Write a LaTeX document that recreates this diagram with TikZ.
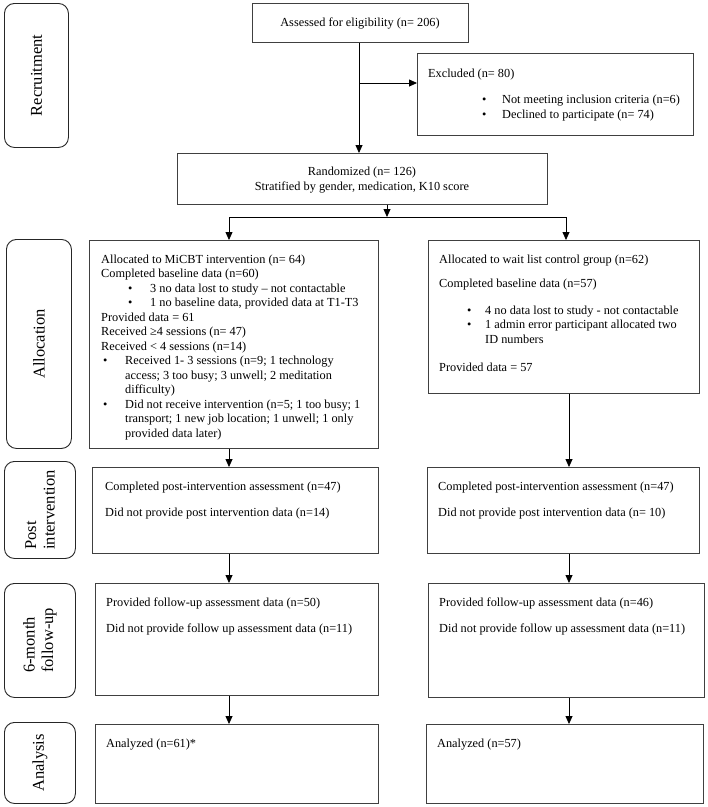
\documentclass[tikz,border=0pt]{standalone}
\usepackage{fontspec}
\setmainfont{Liberation Serif}
\usetikzlibrary{arrows.meta}
\begin{document}
\begin{tikzpicture}[x=1pt,y=-1pt,
  box/.style={draw=black!75, line width=0.8pt, inner sep=0pt, anchor=north west},
  lab/.style={draw=black!85, line width=0.9pt, rounded corners=10pt, inner sep=0pt, anchor=north west},
  labtext/.style={rotate=90, font=\fontsize{16.5}{18.5}\selectfont, align=left, inner sep=0pt},
  txt/.style={anchor=base west, inner sep=0pt, font=\fontsize{12.3}{14.5}\selectfont},
  ctxt/.style={anchor=base, inner sep=0pt, font=\fontsize{12.3}{14.5}\selectfont},
  arr/.style={draw=black, line width=0.8pt, -{Triangle[length=8pt,width=7pt]}},
  ln/.style={draw=black, line width=0.8pt}]
\useasboundingbox[fill=white] (0,0) rectangle (708,807);

% stage labels
\node[lab, minimum width=64pt, minimum height=144pt] (lrec) at (4,3) {};
\node[labtext] (lrect) at (lrec.center) {Recruitment};
\node[lab, minimum width=65pt, minimum height=209pt] (lall) at (6,239) {};
\node[labtext] (lallt) at (lall.center) {Allocation};
\node[lab, minimum width=71pt, minimum height=97pt] (lpost) at (4,461) {};
\node[labtext] (lpostt) at (lpost.center) {Post\\intervention};
\node[lab, minimum width=71pt, minimum height=114pt] (lfol) at (4,583) {};
\node[labtext] (lfolt) at (lfol.center) {6-month\\follow-up};
\node[lab, minimum width=71pt, minimum height=81pt] (lana) at (4,722) {};
\node[labtext] (lanat) at (lana.center) {Analysis};

% top boxes
\node[box, minimum width=216pt, minimum height=39pt] (assess) at (252,3) {};
\node[ctxt] (assesst) at (360,26) {Assessed for eligibility (n= 206)};

\node[box, minimum width=276pt, minimum height=82pt] (excl) at (417,53) {};
\node[txt] (exclt) at (428,77) {Excluded (n= 80)};
\node[txt] (exb1) at (482,103) {•};
\node[txt] (ext1) at (502,103) {Not meeting inclusion criteria (n=6)};
\node[txt] (exb2) at (482,118) {•};
\node[txt] (ext2) at (502,118) {Declined to participate (n= 74)};

\node[box, minimum width=370pt, minimum height=51pt] (rand) at (177,153) {};
\node[ctxt] (randt1) at (362,175) {Randomized (n= 126)};
\node[ctxt] (randt2) at (362,190) {Stratified by gender, medication, K10 score};

% allocation boxes
\node[box, minimum width=289pt, minimum height=208pt] (allocL) at (89,240) {};
\node[txt] (aL1) at (101,263) {Allocated to MiCBT intervention (n= 64)};
\node[txt] (aL2) at (101,277.5) {Completed baseline data (n=60)};
\node[txt] (aLb3) at (128,292) {•};
\node[txt] (aL3) at (150,292) {3 no data lost to study – not contactable};
\node[txt] (aLb4) at (128,306.5) {•};
\node[txt] (aL4) at (150,306.5) {1 no baseline data, provided data at T1-T3};
\node[txt] (aL5) at (101,321) {Provided data = 61};
\node[txt] (aL6) at (101,335.5) {Received ≥4 sessions (n= 47)};
\node[txt] (aL7) at (101,350) {Received < 4 sessions (n=14)};
\node[txt] (aLb8) at (103,364.5) {•};
\node[txt] (aL8) at (125,364.5) {Received 1- 3 sessions (n=9; 1 technology};
\node[txt] (aL9) at (125,379) {access; 3 too busy; 3 unwell; 2 meditation};
\node[txt] (aL10) at (125,393.5) {difficulty)};
\node[txt] (aLb11) at (103,408) {•};
\node[txt] (aL11) at (125,408) {Did not receive intervention (n=5; 1 too busy; 1};
\node[txt] (aL12) at (125,422.5) {transport; 1 new job location; 1 unwell; 1 only};
\node[txt] (aL13) at (125,437) {provided data later)};

\node[box, minimum width=271pt, minimum height=153pt] (allocR) at (428,240) {};
\node[txt] (aR1) at (439,263) {Allocated to wait list control group (n=62)};
\node[txt] (aR2) at (439,287) {Completed baseline data (n=57)};
\node[txt] (aRb3) at (467,314) {•};
\node[txt] (aR3) at (485,314) {4 no data lost to study - not contactable};
\node[txt] (aRb4) at (467,328.5) {•};
\node[txt] (aR4) at (485,328.5) {1 admin error participant allocated two};
\node[txt] (aR5) at (485,343) {ID numbers};
\node[txt] (aR6) at (439,371) {Provided data = 57};

% post intervention
\node[box, minimum width=286pt, minimum height=86pt] (postL) at (92,467) {};
\node[txt] (pL1) at (105,490) {Completed post-intervention assessment (n=47)};
\node[txt] (pL2) at (105,516) {Did not provide post intervention data (n=14)};
\node[box, minimum width=272pt, minimum height=86pt] (postR) at (427,467) {};
\node[txt] (pR1) at (438,490) {Completed post-intervention assessment (n=47)};
\node[txt] (pR2) at (438,516) {Did not provide post intervention data (n= 10)};

% follow-up
\node[box, minimum width=283pt, minimum height=112pt] (folL) at (95,583) {};
\node[txt] (fL1) at (106,606) {Provided follow-up assessment data (n=50)};
\node[txt] (fL2) at (106,632) {Did not provide follow up assessment data (n=11)};
\node[box, minimum width=276pt, minimum height=114pt] (folR) at (428,583) {};
\node[txt] (fR1) at (439,606) {Provided follow-up assessment data (n=46)};
\node[txt] (fR2) at (439,632) {Did not provide follow up assessment data (n=11)};

% analysis
\node[box, minimum width=283pt, minimum height=79pt] (anaL) at (95,724) {};
\node[txt] (nL1) at (106,747) {Analyzed (n=61)*};
\node[box, minimum width=277pt, minimum height=79pt] (anaR) at (426,724) {};
\node[txt] (nR1) at (437,747) {Analyzed (n=57)};

% connectors
\coordinate (vx) at (359,0);
\coordinate (exj) at (359,83);
\coordinate (split) at (387,217);
\coordinate (sl) at (229,217);
\coordinate (sr) at (566,217);
\coordinate (cl) at (229,0);
\coordinate (cr) at (569,0);

\draw[arr] (assess.south -| vx) -- (rand.north -| vx);
\draw[arr] (exj) -- (exj -| excl.west);
\draw[arr] (rand.south -| split) -- (split);
\draw[ln] (sl) -- (sr);
\draw[arr] (sl) -- (sl |- allocL.north);
\draw[arr] (sr) -- (sr |- allocR.north);
\draw[arr] (allocL.south -| cl) -- (postL.north -| cl);
\draw[arr] (allocR.south -| cr) -- (postR.north -| cr);
\draw[arr] (postL.south -| cl) -- (folL.north -| cl);
\draw[arr] (postR.south -| cr) -- (folR.north -| cr);
\draw[arr] (folL.south -| cl) -- (anaL.north -| cl);
\draw[arr] (folR.south -| cr) -- (anaR.north -| cr);
\end{tikzpicture}
\end{document}
